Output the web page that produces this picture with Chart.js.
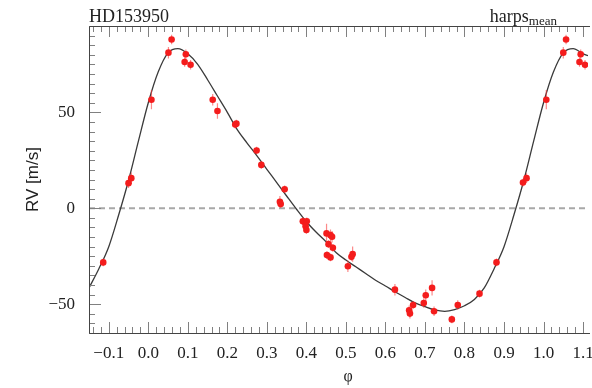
<!DOCTYPE html>
<html>
<head>
<meta charset="utf-8">
<title>HD153950 RV phase curve</title>
<script src="https://cdn.jsdelivr.net/npm/chart.js@4.4.1/dist/chart.umd.min.js"></script>
<style>
    html, body { margin: 0; padding: 0; background: #fff; }
    #wrap { position: relative; width: 592px; height: 388px; overflow: hidden; }
    canvas { display: block; }
    .lbl { position: absolute; font-family: 'Liberation Serif', 'Times New Roman', serif; color: #222; white-space: nowrap; line-height: 20px; }
    #title { left: 89px; top: 6px; font-size: 18px; }
    #inst { right: 35px; top: 6px; font-size: 18px; }
    #inst sub { font-size: 13px; vertical-align: -3px; line-height: 0; }
    #phi { left: 348px; top: 366px; font-size: 16px; transform: translateX(-50%); }
</style>
</head>
<body>
<div id="wrap">
    <canvas id="rvChart" width="592" height="388"></canvas>
    <div class="lbl" id="title">HD153950</div>
    <div class="lbl" id="inst">harps<sub>mean</sub></div>
    <div class="lbl" id="phi">φ</div>
</div>
<script>
// Observed radial velocities (phase-folded, including wrapped copies)
const phase = [
    -0.114, -0.050, -0.043, 0.008, 0.051, 0.059, 0.092, 0.095, 0.107,
    0.163, 0.175, 0.220, 0.223, 0.274, 0.286, 0.333, 0.335, 0.345,
    0.391, 0.401, 0.398, 0.400, 0.451, 0.461, 0.465, 0.456, 0.467,
    0.452, 0.461, 0.517, 0.514, 0.505, 0.624, 0.660, 0.662, 0.670,
    0.697, 0.702, 0.718, 0.723, 0.768, 0.783, 0.838, 0.881, 0.948,
    0.957, 1.007, 1.050, 1.057, 1.091, 1.094, 1.105
];
const rv = [
    -28.2, 13.1, 15.7, 56.6, 81.1, 88.0, 76.2, 80.3, 74.8,
    56.6, 50.7, 43.6, 44.1, 30.1, 22.6, 3.4, 2.2, 9.9,
    -6.8, -6.8, -9.3, -11.3, -13.1, -14.0, -14.8, -18.7, -20.6,
    -24.4, -25.6, -23.9, -25.3, -30.2, -42.4, -53.2, -54.9, -50.4,
    -49.4, -45.3, -41.5, -53.7, -57.9, -50.4, -44.5, -28.2, 13.4,
    15.7, 56.6, 81.1, 88.0, 76.2, 80.3, 74.8
];
const rvErr = [
    2, 2.5, 3, 5, 3, 2.5, 2.5, 2.5, 2.5,
    3, 4, 2, 2, 2, 2, 3, 2, 2,
    2, 2, 2, 2, 5, 3, 3, 2, 2,
    2, 2, 4, 2, 3, 3, 2.5, 2.5, 2,
    2.5, 3, 4, 2.5, 2, 2.5, 2, 2, 2,
    2.5, 5, 3, 2.5, 2.5, 2.5, 2.5
];

// Keplerian fit
const fitPhase = [
    -0.150, -0.125, -0.100, -0.075, -0.050, -0.025, 0.000, 0.025, 0.050, 0.075,
    0.100, 0.125, 0.150, 0.175, 0.200, 0.225, 0.250, 0.275, 0.300, 0.325,
    0.350, 0.375, 0.400, 0.425, 0.450, 0.475, 0.500, 0.525, 0.550, 0.575,
    0.600, 0.625, 0.650, 0.675, 0.700, 0.725, 0.750, 0.775, 0.800, 0.825,
    0.850, 0.875, 0.900, 0.925, 0.950, 0.975, 1.000, 1.025, 1.050, 1.075,
    1.100, 1.1125
];
const fitRV = [
    -41.5, -31.5, -20.0, -3.5, 14.5, 35.0, 55.0, 71.0, 81.0, 83.2,
    80.5, 75.0, 67.0, 58.5, 50.0, 41.0, 34.0, 27.3, 20.3, 13.4,
    6.4, -0.5, -7.0, -12.5, -17.5, -23.0, -27.0, -30.5, -34.0, -37.5,
    -40.5, -43.6, -46.5, -49.3, -51.3, -53.0, -53.7, -52.8, -50.8, -47.5,
    -41.5, -31.5, -20.0, -3.5, 14.5, 35.0, 55.0, 71.0, 81.0, 83.2,
    80.5, 79.5
];

const zeroPhase = [-0.15, 1.1125];
const zeroRV = [0, 0];

const xTickValues = [-0.1, 0.0, 0.1, 0.2, 0.3, 0.4, 0.5, 0.6, 0.7, 0.8, 0.9, 1.0, 1.1];
const yTickValues = [-50, 0, 50];

const serif = "'Liberation Serif', 'Times New Roman', serif";
const sans = "'Liberation Sans', Arial, sans-serif";

function fmt(v, digits) {
    const s = Math.abs(v).toFixed(digits);
    return v < -1e-9 ? '\u2212' + s : s;
}

// error bars drawn under the red markers
const errorBars = {
    id: 'errorBars',
    beforeDatasetDraw(chart, args) {
        if (args.index !== 0) return;
        const { ctx, scales: { x, y } } = chart;
        ctx.save();
        ctx.strokeStyle = 'rgba(250, 60, 60, 0.6)';
        ctx.lineWidth = 1.2;
        ctx.beginPath();
        phase.forEach((p, i) => {
            const px = x.getPixelForValue(p);
            ctx.moveTo(px, y.getPixelForValue(rv[i] - rvErr[i]));
            ctx.lineTo(px, y.getPixelForValue(rv[i] + rvErr[i]));
        });
        ctx.stroke();
        ctx.restore();
    }
};

// box frame with inward ticks (top, bottom, left)
const frameTicks = {
    id: 'frameTicks',
    afterDraw(chart) {
        const { ctx, chartArea: a, scales: { x, y } } = chart;
        ctx.save();
        ctx.strokeStyle = '#808080';
        ctx.lineWidth = 1;
        ctx.beginPath();
        for (let i = -7; i <= 56; i++) {
            const v = i * 0.02;
            if (v < x.min || v > x.max) continue;
            const px = Math.round(x.getPixelForValue(v)) + 0.5;
            const len = i % 5 === 0 ? 11 : 6;
            ctx.moveTo(px, a.bottom);
            ctx.lineTo(px, a.bottom - len);
            ctx.moveTo(px, a.top);
            ctx.lineTo(px, a.top + len);
        }
        for (let i = -13; i <= 19; i++) {
            const v = i * 5;
            if (v < y.min || v > y.max) continue;
            const py = Math.round(y.getPixelForValue(v)) + 0.5;
            const len = v % 50 === 0 ? 12 : 6;
            ctx.moveTo(a.left, py);
            ctx.lineTo(a.left + len, py);
        }
        ctx.stroke();
        ctx.strokeStyle = '#444';
        ctx.beginPath();
        ctx.moveTo(a.right + 2, a.top + 0.5);
        ctx.lineTo(a.left + 0.5, a.top + 0.5);
        ctx.lineTo(a.left + 0.5, a.bottom + 0.5);
        ctx.lineTo(a.right + 2, a.bottom + 0.5);
        ctx.stroke();
        ctx.restore();
    }
};

const ctx = document.getElementById('rvChart');

new Chart(ctx, {
    type: 'scatter',
    data: {
        datasets: [
            {
                label: 'harps mean',
                data: phase.map((p, i) => ({ x: p, y: rv[i] })),
                backgroundColor: '#f41c1c',
                borderWidth: 0,
                pointRadius: 3.3,
                order: 0
            },
            {
                label: 'fit',
                type: 'line',
                data: fitPhase.map((p, i) => ({ x: p, y: fitRV[i] })),
                borderColor: '#3a3a3a',
                borderWidth: 1.3,
                pointRadius: 0,
                cubicInterpolationMode: 'monotone',
                fill: false,
                order: 1
            },
            {
                label: 'zero',
                type: 'line',
                data: zeroPhase.map((p, i) => ({ x: p, y: zeroRV[i] })),
                borderColor: '#a8a8a8',
                borderWidth: 2,
                borderDash: [6, 4],
                pointRadius: 0,
                fill: false,
                order: 2
            }
        ]
    },
    options: {
        responsive: false,
        animation: false,
        layout: { padding: { top: 26, right: 0, left: 0, bottom: 0 } },
        plugins: {
            legend: { display: false },
            tooltip: { enabled: false }
        },
        scales: {
            x: {
                type: 'linear',
                min: -0.15,
                max: 1.1125,
                grid: { display: false, drawTicks: false },
                border: { display: false },
                afterBuildTicks: (s) => { s.ticks = xTickValues.map(v => ({ value: v })); },
                afterFit: (s) => { s.height = 55; s.paddingLeft = 0; s.paddingRight = 0; },
                ticks: {
                    autoSkip: false,
                    maxRotation: 0,
                    padding: 10,
                    color: '#222',
                    font: { family: serif, size: 17 },
                    callback: (v) => fmt(v, 1)
                }
            },
            y: {
                type: 'linear',
                min: -65,
                max: 95,
                grid: { display: false, drawTicks: false },
                border: { display: false },
                afterBuildTicks: (s) => { s.ticks = yTickValues.map(v => ({ value: v })); },
                afterFit: (s) => { s.width = 89; s.paddingTop = 0; s.paddingBottom = 0; },
                ticks: {
                    autoSkip: false,
                    padding: 14,
                    color: '#222',
                    font: { family: serif, size: 17 },
                    callback: (v) => fmt(v, 0)
                },
                title: {
                    display: true,
                    text: 'RV [m/s]',
                    color: '#222',
                    font: { family: sans, size: 17 },
                    padding: { top: 23, bottom: 0 }
                }
            }
        }
    },
    plugins: [errorBars, frameTicks]
});
</script>
</body>
</html>
